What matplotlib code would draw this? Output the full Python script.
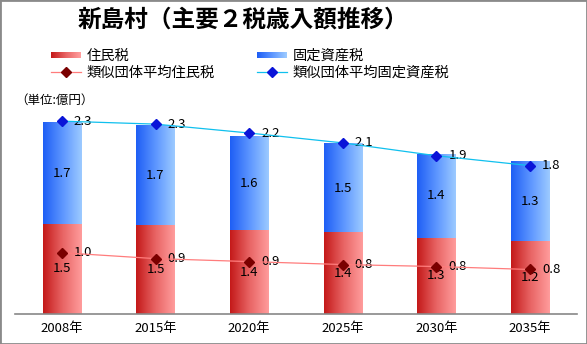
import numpy as np
import matplotlib
matplotlib.use('Agg')
import matplotlib.pyplot as plt
from matplotlib.colors import LinearSegmentedColormap
from matplotlib.patches import Rectangle
from matplotlib.lines import Line2D
from matplotlib.legend_handler import HandlerBase

plt.rcParams['font.family'] = ['Noto Sans CJK JP', 'DejaVu Sans']

# データ (単位: 億円)
years = ['2008年', '2015年', '2020年', '2025年', '2030年', '2035年']
juminzei = [1.50, 1.48, 1.40, 1.36, 1.27, 1.21]
koteishisanzei = [1.69, 1.66, 1.56, 1.48, 1.40, 1.32]
ruiji_juminzei = [0.96, 0.90, 0.87, 0.84, 0.82, 0.79]
ruiji_kotei = [2.29, 2.26, 2.17, 2.07, 1.94, 1.84]

W, H = 587, 344
fig = plt.figure(figsize=(W / 100, H / 100), dpi=100)
ax = fig.add_axes([15 / W, 30 / H, 562 / W, 210 / H])

red_cmap = LinearSegmentedColormap.from_list('r', ['#c41a1a', '#e86464', '#ff9c9c'])
blue_cmap = LinearSegmentedColormap.from_list('b', ['#1f5ff5', '#5c95ff', '#9ccaff'])

x = np.arange(len(years))
bw = 0.41
b1 = ax.bar(x, juminzei, bw, color='none')
b2 = ax.bar(x, koteishisanzei, bw, bottom=juminzei, color='none')

grad = np.linspace(0, 1, 64).reshape(1, -1)
for bars, cm in [(b1, red_cmap), (b2, blue_cmap)]:
    for r in bars:
        x0, y0, w, h = r.get_x(), r.get_y(), r.get_width(), r.get_height()
        ax.imshow(grad, extent=[x0, x0 + w, y0, y0 + h], aspect='auto', cmap=cm, zorder=1)

# 棒グラフの値
for i in range(len(years)):
    ax.text(x[i], juminzei[i] / 2, f'{juminzei[i]:.1f}', ha='center', va='center', fontsize=9.5, zorder=3)
    ax.text(x[i], juminzei[i] + koteishisanzei[i] / 2, f'{koteishisanzei[i]:.1f}',
            ha='center', va='center', fontsize=9.5, zorder=3)

ax.set_xlim(-0.5, len(years) - 0.5)
ax.set_ylim(0, 3.5)
ax.set_yticks([])
ax.set_xticks(x)
ax.set_xticklabels(years, fontsize=9.5)
ax.tick_params(axis='x', length=0, pad=6)
for s in ['top', 'left', 'right']:
    ax.spines[s].set_visible(False)
ax.spines['bottom'].set_color('#888888')
ax.spines['bottom'].set_linewidth(1.2)

# 類似団体平均 (第2軸)
ax2 = ax.twinx()
ax2.set_ylim(0.34, 0.34 + 210 / 98.9)
ax2.plot(x, ruiji_kotei, color='#10c0ee', lw=0.9, marker='D', ms=5.5,
         mfc='#0a14d8', mec='#0a14d8', zorder=4)
ax2.plot(x, ruiji_juminzei, color='#ff7c7c', lw=0.9, marker='D', ms=5.5,
         mfc='#7a0000', mec='#7a0000', zorder=4)
for i in range(len(years)):
    ax2.annotate(f'{ruiji_kotei[i]:.1f}', (x[i], ruiji_kotei[i]), xytext=(12, 0),
                 textcoords='offset pixels', va='center', fontsize=9.5)
    ax2.annotate(f'{ruiji_juminzei[i]:.1f}', (x[i], ruiji_juminzei[i]), xytext=(12, 0),
                 textcoords='offset pixels', va='center', fontsize=9.5)
ax2.set_yticks([])
for s in ax2.spines.values():
    s.set_visible(False)


class GradHandler(HandlerBase):
    def __init__(self, cmap, n=30):
        super().__init__()
        self.cmap = cmap
        self.n = n

    def create_artists(self, legend, orig_handle, xdescent, ydescent, width, height, fontsize, trans):
        hh = height * 0.55
        y0 = -ydescent + (height - hh) / 2
        out = []
        for k in range(self.n):
            r = Rectangle((-xdescent + width * k / self.n, y0), width / self.n + 0.3, hh,
                          facecolor=self.cmap(k / (self.n - 1)), edgecolor='none', transform=trans)
            out.append(r)
        return out


h_red = Rectangle((0, 0), 1, 1)
h_blue = Rectangle((0, 0), 1, 1)
h_l1 = Line2D([], [], color='#ff7c7c', lw=0.9, marker='D', ms=5, mfc='#7a0000', mec='#7a0000')
h_l2 = Line2D([], [], color='#10c0ee', lw=0.9, marker='D', ms=5, mfc='#0a14d8', mec='#0a14d8')
fig.legend([h_red, h_l1, h_blue, h_l2],
           ['住民税', '類似団体平均住民税', '固定資産税', '類似団体平均固定資産税'],
           handler_map={h_red: GradHandler(red_cmap), h_blue: GradHandler(blue_cmap)},
           ncol=2, loc='upper left', bbox_to_anchor=(51 / W, 1 - 49 / H),
           frameon=False, fontsize=10.3, handlelength=2.1, handletextpad=0.4,
           columnspacing=2.9, labelspacing=0.22, borderpad=0, borderaxespad=0)

fig.text(243 / W, 1 - 20 / H, '新島村（主要２税歳入額推移）', ha='center', va='center',
         fontsize=17, fontweight='bold')
fig.text(15 / W, 1 - 100 / H, '（単位:億円）', ha='left', va='center', fontsize=9)

fig.patches.append(Rectangle((0, 0), 1, 1, transform=fig.transFigure, fill=False,
                             edgecolor='#8a8a8a', lw=2))

fig.savefig('out.png', dpi=100)
